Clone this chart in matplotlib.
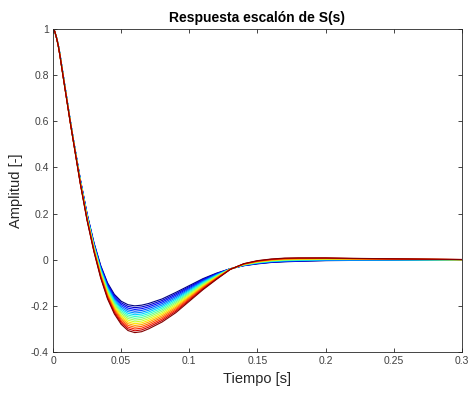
import numpy as np
import matplotlib
matplotlib.use("Agg")
import matplotlib.pyplot as plt

plt.rcParams['font.family'] = ['Liberation Sans', 'DejaVu Sans']

# Time grid for the sampled step responses [s]
t = [0, 0.00125, 0.0025, 0.00375, 0.005, 0.0075, 0.01, 0.0125, 0.015, 0.0175, 0.02, 0.025,
     0.03, 0.035, 0.04, 0.045, 0.05, 0.055, 0.06, 0.065, 0.07, 0.08,
     0.09, 0.10, 0.11, 0.12, 0.13, 0.14, 0.15, 0.16, 0.17, 0.18,
     0.20, 0.22, 0.25, 0.30]

# Step response with the smallest undershoot (first parameter value)
y_first = [1.0, 0.99, 0.965, 0.935, 0.895, 0.80, 0.705, 0.61, 0.52, 0.435, 0.35, 0.20,
           0.075, -0.025, -0.10, -0.15, -0.18, -0.195, -0.20, -0.197, -0.19, -0.17,
           -0.142, -0.112, -0.082, -0.058, -0.039, -0.026, -0.018, -0.012, -0.009, -0.007,
           -0.004, -0.003, -0.002, -0.001]

# Step response with the largest undershoot (last parameter value)
y_last = [1.0, 0.99, 0.963, 0.93, 0.887, 0.79, 0.695, 0.60, 0.51, 0.42, 0.33, 0.17,
          0.035, -0.08, -0.17, -0.235, -0.28, -0.307, -0.316, -0.312, -0.30, -0.27,
          -0.23, -0.18, -0.13, -0.085, -0.042, -0.017, -0.004, 0.003, 0.007, 0.008,
          0.008, 0.006, 0.004, 0.001]

# Position of each swept response between the two extremes
sweep = [0.0, 0.067, 0.133, 0.2, 0.267, 0.333, 0.4, 0.467, 0.533, 0.6,
         0.667, 0.733, 0.8, 0.867, 0.933, 1.0]

x_ticks = [0, 0.05, 0.1, 0.15, 0.2, 0.25, 0.3]
x_tick_labels = ["0", "0.05", "0.1", "0.15", "0.2", "0.25", "0.3"]
y_ticks = [-0.4, -0.2, 0, 0.2, 0.4, 0.6, 0.8, 1]
y_tick_labels = ["-0.4", "-0.2", "0", "0.2", "0.4", "0.6", "0.8", "1"]

fig = plt.figure(figsize=(4.72, 3.93), dpi=100)
ax = fig.add_axes([0.1123, 0.1043, 0.8665, 0.8219])

ta = np.array(t)
ya = np.array(y_first)
yb = np.array(y_last)
cmap = plt.get_cmap('jet')
for k, w in enumerate(sweep):
    ax.plot(ta, ya + w * (yb - ya), color=cmap(w), lw=0.8)

ax.set_xlim(0, 0.3)
ax.set_ylim(-0.4, 1)
ax.set_xticks(x_ticks)
ax.set_xticklabels(x_tick_labels)
ax.set_yticks(y_ticks)
ax.set_yticklabels(y_tick_labels)

axc = '#262626'
for s in ax.spines.values():
    s.set_color(axc)
    s.set_linewidth(0.6)
ax.tick_params(direction='in', length=3, width=0.6, colors=axc,
               labelsize=7.5, top=True, right=True, pad=3)
for lab in ax.get_xticklabels() + ax.get_yticklabels():
    lab.set_color('#404040')

ax.set_title('Respuesta escalón de S(s)', fontsize=10, fontweight='bold',
             color='black', pad=5)
ax.set_xlabel('Tiempo [s]', fontsize=10.5, color=axc, labelpad=4)
ax.set_ylabel('Amplitud [-]', fontsize=10.5, color=axc, labelpad=6)

fig.savefig('out.png', dpi=100)
